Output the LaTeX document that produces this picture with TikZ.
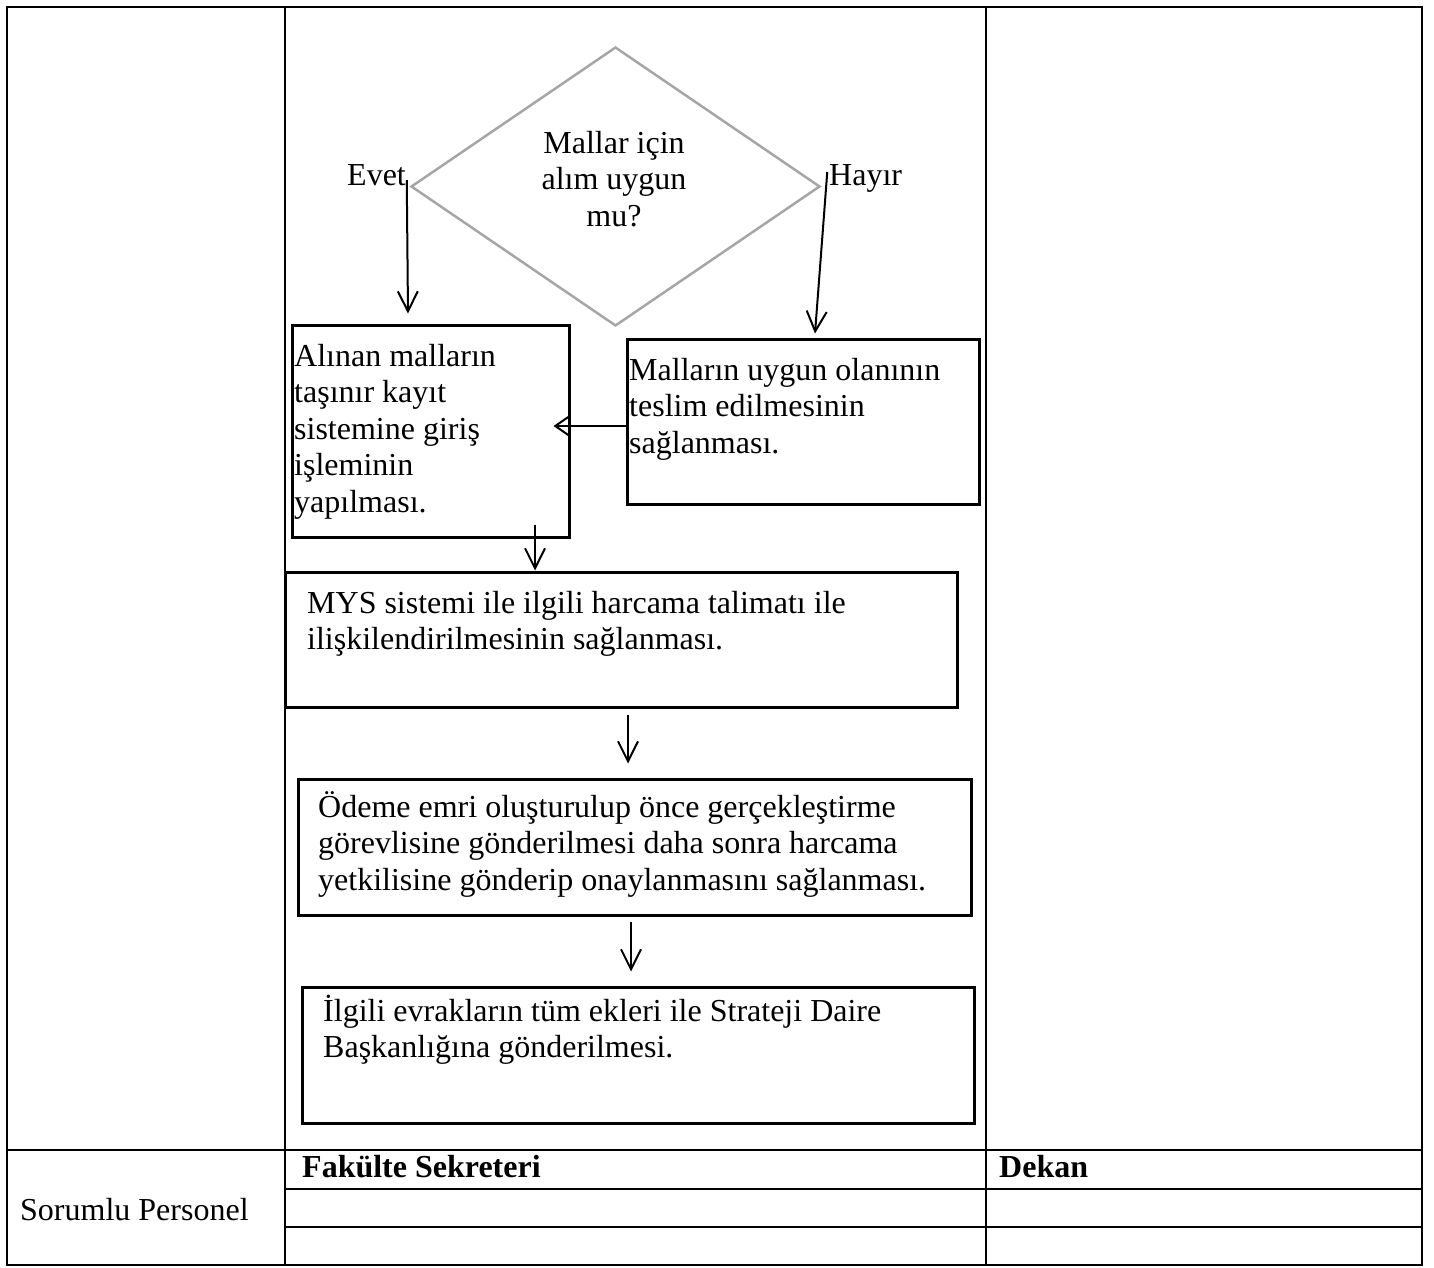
\documentclass[tikz,border=0pt]{standalone}
\usepackage{fontspec}
\setmainfont{Liberation Serif}
\usetikzlibrary{shapes.geometric,arrows.meta}
\newcommand\tstrut{\rule{0pt}{30pt}}
\definecolor{dgray}{RGB}{166,166,166}
\begin{document}
\begin{tikzpicture}[x=1pt,y=-1pt,
  txt/.style={inner sep=0pt,font=\fontsize{32}{36.5}\selectfont,align=left,anchor=north west},
  lbl/.style={inner sep=0pt,font=\fontsize{32}{36}\selectfont,anchor=base west},
  procbox/.style={draw=black,line width=3pt,inner sep=0pt,rectangle},
  tline/.style={line width=2.5pt,black},
  arr/.style={line width=2pt,-{Straight Barb[length=20pt,width=20pt]}},
  arrs/.style={line width=2pt,-{Straight Barb[length=13pt,width=18pt]}}]
\useasboundingbox (0,0) rectangle (1434,1267);
% table
\draw[tline] (7,7) rectangle (1422,1265);
\draw[tline] (285,7) -- (285,1265);
\draw[tline] (986,7) -- (986,1265);
\draw[tline] (7,1150) -- (1422,1150);
\draw[tline] (285,1189) -- (1422,1189);
\draw[tline] (285,1227) -- (1422,1227);
% diamond
\node[diamond,draw=dgray,line width=2.5pt,inner sep=0pt,minimum width=409pt,minimum height=279pt] (d) at (615.5,186.5) {};
\node[txt,anchor=north,align=center] (dt) at (614,123) {\tstrut Mallar için\\alım uygun\\mu?};
\node[lbl] (evet) at (347,185) {Evet};
\node[lbl] (hayir) at (829,185) {Hayır};
% boxes
\node[procbox,minimum width=277pt,minimum height=212pt] (b1) at (430.5,431) {};
\node[procbox,minimum width=352pt,minimum height=165pt] (b2) at (803,421.5) {};
\node[procbox,minimum width=672pt,minimum height=135pt] (b3) at (621,639.5) {};
\node[procbox,minimum width=673pt,minimum height=136pt] (b4) at (634.5,847) {};
\node[procbox,minimum width=672pt,minimum height=136pt] (b5) at (638,1055) {};
% box texts
\node[txt] (t1) at (294,336) {\tstrut Alınan malların\\taşınır kayıt\\sistemine giriş\\işleminin\\yapılması.};
\node[txt] (t2) at (629,350) {\tstrut Malların uygun olanının\\teslim edilmesinin\\sağlanması.};
\node[txt] (t3) at (307,583) {\tstrut MYS sistemi ile ilgili harcama talimatı ile\\ilişkilendirilmesinin sağlanması.};
\node[txt] (t4) at (318,787) {\tstrut Ödeme emri oluşturulup önce gerçekleştirme\\görevlisine gönderilmesi daha sonra harcama\\yetkilisine gönderip onaylanmasını sağlanması.};
\node[txt] (t5) at (323,991) {\tstrut İlgili evrakların tüm ekleri ile Strateji Daire\\Başkanlığına gönderilmesi.};
% bottom rows
\node[lbl] (sp) at (20,1220) {Sorumlu Personel};
\node[lbl,font=\fontsize{32}{36}\selectfont\bfseries] (fs) at (302,1177) {Fakülte Sekreteri};
\node[lbl,font=\fontsize{32}{36}\selectfont\bfseries] (dk) at (999,1177) {Dekan};
% connectors
\draw[arr] ([xshift=-3pt,yshift=6.5pt]d.west) -- ([xshift=-22.5pt,yshift=10pt]b1.north);
\draw[arr] ([xshift=6pt,yshift=14.5pt]d.east) -- ([xshift=12pt,yshift=4pt]b2.north);
\draw[arrs] ([yshift=-4.5pt]b2.west) -- ([xshift=-17pt,yshift=5pt]b1.east);
\draw[arr] ([xshift=104.5pt,yshift=14pt]b1.south) -- ([xshift=-86pt]b3.north);
\draw[arr] ([xshift=7pt,yshift=-6pt]b3.south) -- ([xshift=-6.5pt,yshift=14pt]b4.north);
\draw[arr] ([xshift=-3.5pt,yshift=-5pt]b4.south) -- ([xshift=-7pt,yshift=14pt]b5.north);
\end{tikzpicture}
\end{document}
